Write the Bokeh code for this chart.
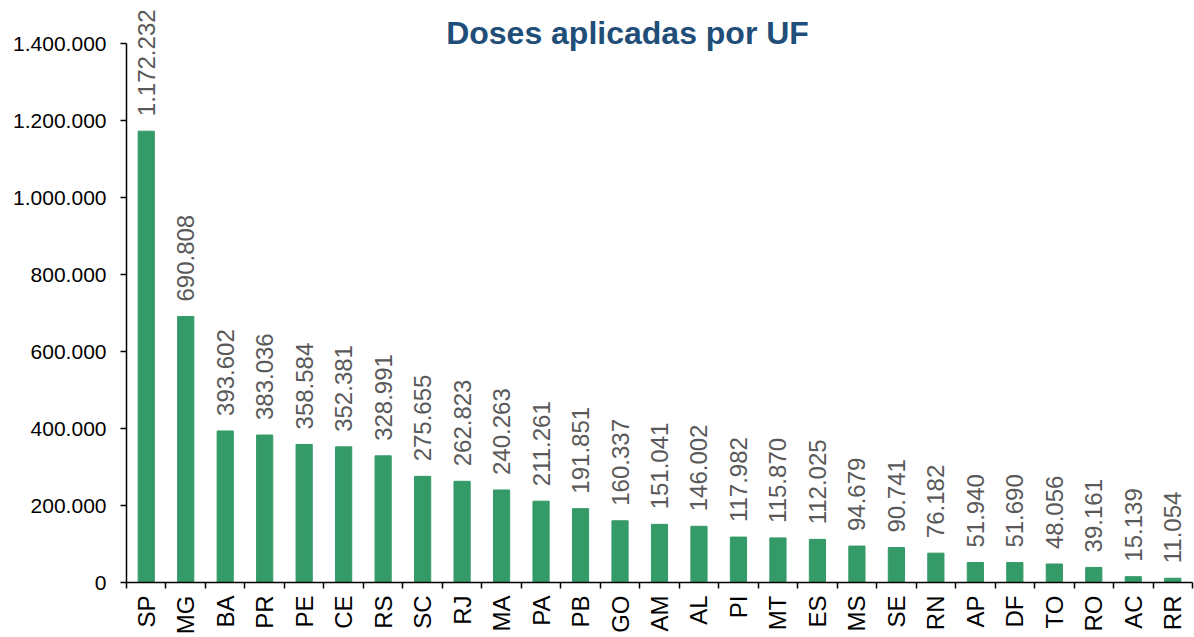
from bokeh.plotting import figure
from bokeh.models import ColumnDataSource, FixedTicker, Range1d, LinearAxis
from bokeh.core.properties import value
from bokeh.embed import file_html
from bokeh.resources import INLINE
import math

ufs = ["SP", "MG", "BA", "PR", "PE", "CE", "RS", "SC", "RJ", "MA", "PA", "PB", "GO", "AM",
       "AL", "PI", "MT", "ES", "MS", "SE", "RN", "AP", "DF", "TO", "RO", "AC", "RR"]
doses = [1172232, 690808, 393602, 383036, 358584, 352381, 328991, 275655, 262823, 240263,
         211261, 191851, 160337, 151041, 146002, 117982, 115870, 112025, 94679, 90741,
         76182, 51940, 51690, 48056, 39161, 15139, 11054]
y_ticks = [0, 200000, 400000, 600000, 800000, 1000000, 1200000, 1400000]
title_text = "Doses aplicadas por UF"

def fmt(v):
    return f"{v:,}".replace(",", ".")

FONT = "Liberation Sans"
xs = [i + 0.5 for i in range(len(ufs))]
src = ColumnDataSource(dict(x=xs, top=doses, lbl=[fmt(v) for v in doses]))

p = figure(width=1194, height=637, output_backend="svg", toolbar_location=None,
           x_range=Range1d(0, len(ufs)), y_range=Range1d(0, 1511700),
           x_axis_type=None, y_axis_type=None,
           min_border_left=126, min_border_right=2, min_border_top=0, min_border_bottom=0)
p.outline_line_color = None
p.xgrid.visible = False
p.ygrid.visible = False
p.background_fill_color = "white"

p.vbar(x="x", top="top", width=0.41, source=src, color="#349a68")
p.text(x="x", y="top", text="lbl", source=src, angle=math.pi / 2,
       text_align="left", text_baseline="middle", y_offset=-15,
       text_font=value(FONT), text_font_size="24px", text_color="#595959")

p.text(x=[12.69], y=[1428500], text=[title_text], text_align="center",
       text_baseline="middle", text_font=value(FONT),
       text_font_style="bold", text_font_size="32px", text_color="#1f4e79")

yaxis = LinearAxis(ticker=FixedTicker(ticks=y_ticks, minor_ticks=[]), bounds=(0, 1400000))
yaxis.major_label_overrides = {t: fmt(t) for t in y_ticks}
yaxis.major_label_text_font = FONT
yaxis.major_label_text_font_size = "21px"
yaxis.major_label_text_color = "black"
yaxis.axis_line_color = "black"
yaxis.axis_line_width = 1.5
yaxis.major_tick_out = 6
yaxis.major_tick_in = 0
yaxis.major_tick_line_color = "black"
yaxis.major_tick_line_width = 1.5
yaxis.minor_tick_line_color = None
yaxis.major_label_standoff = 14
p.add_layout(yaxis, "left")

xaxis = LinearAxis(ticker=FixedTicker(ticks=xs, minor_ticks=list(range(len(ufs) + 1))))
xaxis.major_label_overrides = {x: u for x, u in zip(xs, ufs)}
xaxis.major_label_orientation = math.pi / 2
xaxis.major_label_text_font = FONT
xaxis.major_label_text_font_size = "24px"
xaxis.major_label_text_color = "black"
xaxis.axis_line_color = "black"
xaxis.axis_line_width = 1.5
xaxis.major_tick_out = 0
xaxis.major_tick_in = 0
xaxis.minor_tick_out = 6
xaxis.minor_tick_in = 0
xaxis.minor_tick_line_color = "black"
xaxis.minor_tick_line_width = 1.5
xaxis.major_label_standoff = 7
p.add_layout(xaxis, "below")

open("out.html", "w").write(file_html(p, INLINE))
